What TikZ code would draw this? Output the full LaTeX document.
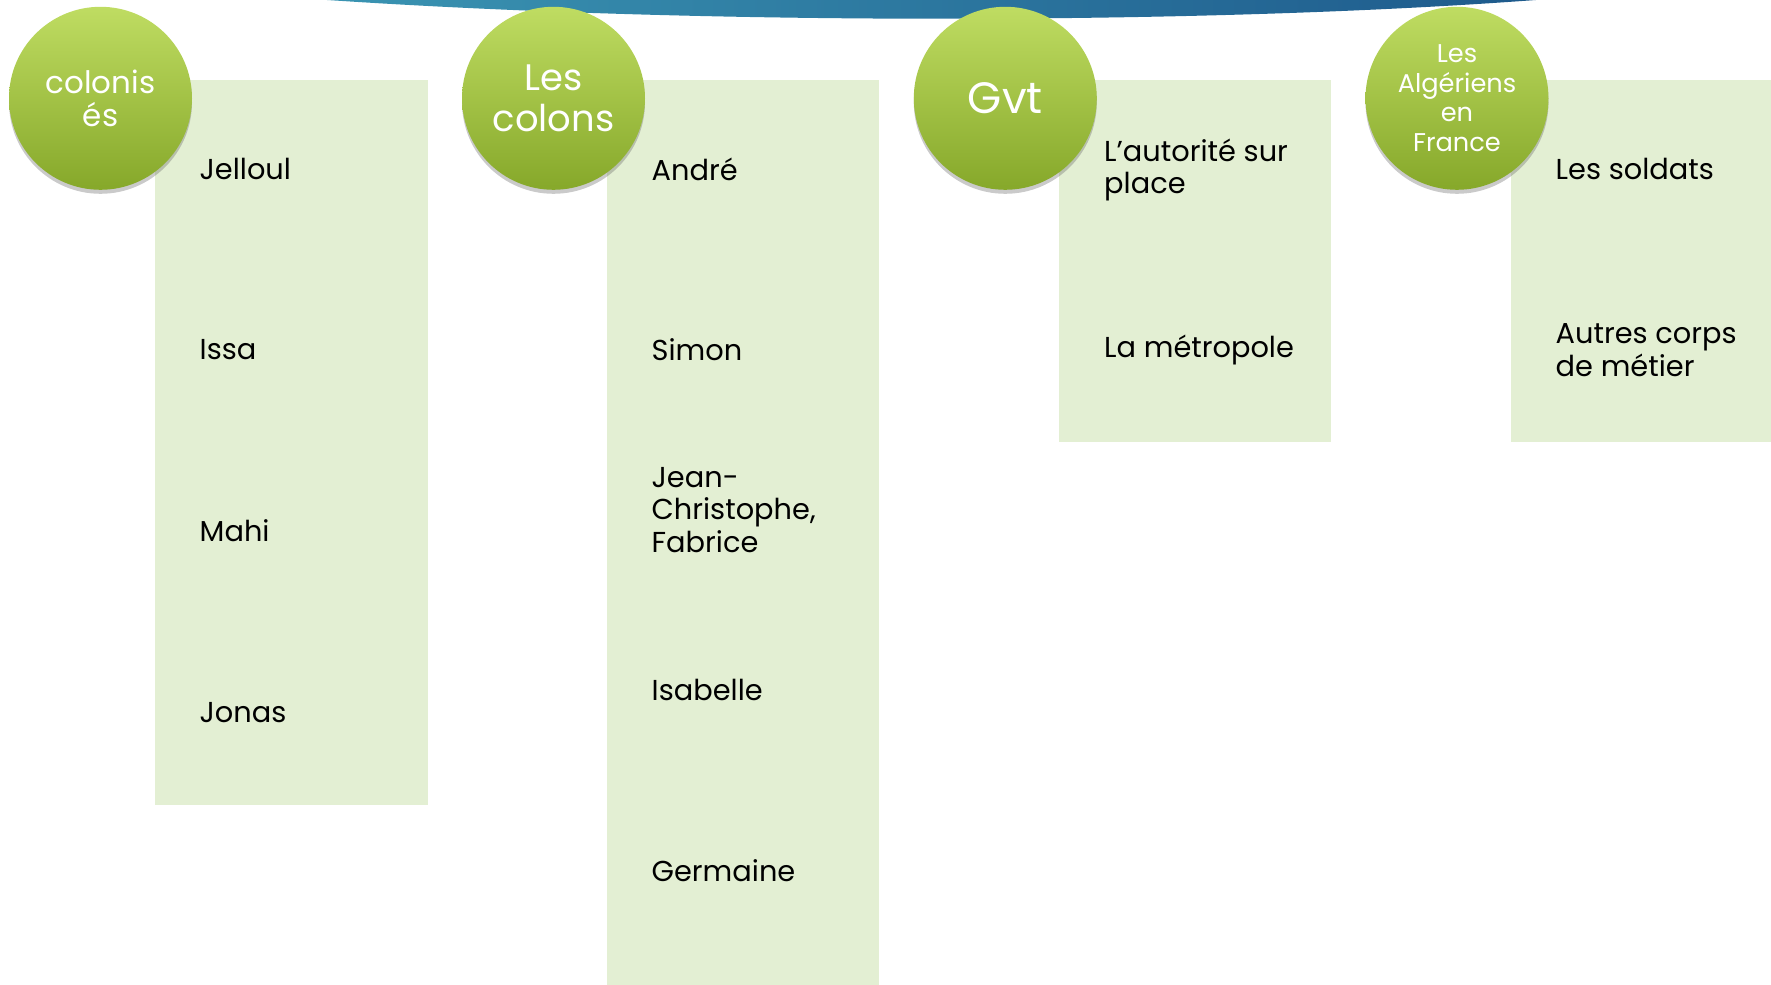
\documentclass[tikz,border=0pt]{standalone}
\usepackage{fontspec}
\setmainfont{Poppins}
\usetikzlibrary{shadows}

\definecolor{panelgreen}{RGB}{227,239,211}
\definecolor{balltop}{RGB}{191,220,98}
\definecolor{ballbottom}{RGB}{134,168,42}
\definecolor{bandleft}{RGB}{58,148,178}
\definecolor{bandright}{RGB}{30,90,140}

\begin{document}
\begin{tikzpicture}[
    panel/.style={rectangle, fill=panelgreen, anchor=north west, inner sep=0pt, minimum width=2.722cm},
    ball/.style={circle, minimum size=1.83cm, inner sep=0pt, align=center, text=white,
        top color=balltop, bottom color=ballbottom,
        drop shadow={shadow xshift=0cm, shadow yshift=-0.04cm, opacity=0.35, fill=black!60}},
    item/.style={anchor=west, align=left, inner sep=0pt, font=\fontsize{8.2}{9.3}\selectfont}
]
\useasboundingbox (0,0) rectangle (17.71,-9.85);

% Top band
\shade[left color=bandleft, right color=bandright]
    (3.27,0) .. controls (7.0,-0.25) and (12.0,-0.25) .. (15.36,0) -- cycle;

% Panels
\node[panel, minimum height=7.25cm] (colonisbox) at (1.547,-0.79) {};
\node[panel, minimum height=9.06cm] (colonsbox) at (6.065,-0.79) {};
\node[panel, minimum height=3.626cm] (gvtbox) at (10.58,-0.79) {};
\node[panel, minimum height=3.626cm, minimum width=2.61cm] (algbox) at (15.10,-0.79) {};

% Circles
\node[ball, font=\fontsize{8.8}{9.6}\selectfont] (colonises) at (1.005,-0.983) {colonis\\és};
\node[ball, font=\fontsize{10.5}{11.6}\selectfont] (colons) at (5.535,-0.983) {Les\\colons};
\node[ball, font=\fontsize{12.5}{13}\selectfont] (gvt) at (10.053,-0.983) {Gvt};
\node[ball, font=\fontsize{7.3}{8.4}\selectfont] (algeriens) at (14.57,-0.983) {Les\\Algériens\\en\\France};

% Column 1
\node[item] (jelloul) at (1.99,-1.694) {Jelloul};
\node[item] (issa) at (1.99,-3.50) {Issa};
\node[item] (mahi) at (1.99,-5.31) {Mahi};
\node[item] (jonas) at (1.99,-7.13) {Jonas};

% Column 2
\node[item] (andre) at (6.51,-1.694) {André};
\node[item] (simon) at (6.51,-3.50) {Simon};
\node[item] (jeanchristophe) at (6.51,-5.10) {Jean-\\Christophe,\\Fabrice};
\node[item] (isabelle) at (6.51,-6.90) {Isabelle};
\node[item] (germaine) at (6.51,-8.71) {Germaine};

% Column 3
\node[item] (autorite) at (11.035,-1.70) {L’autorité sur\\place};
\node[item] (metropole) at (11.035,-3.50) {La métropole};

% Column 4
\node[item] (soldats) at (15.55,-1.694) {Les soldats};
\node[item] (metiers) at (15.55,-3.50) {Autres corps\\de métier};

\end{tikzpicture}
\end{document}
